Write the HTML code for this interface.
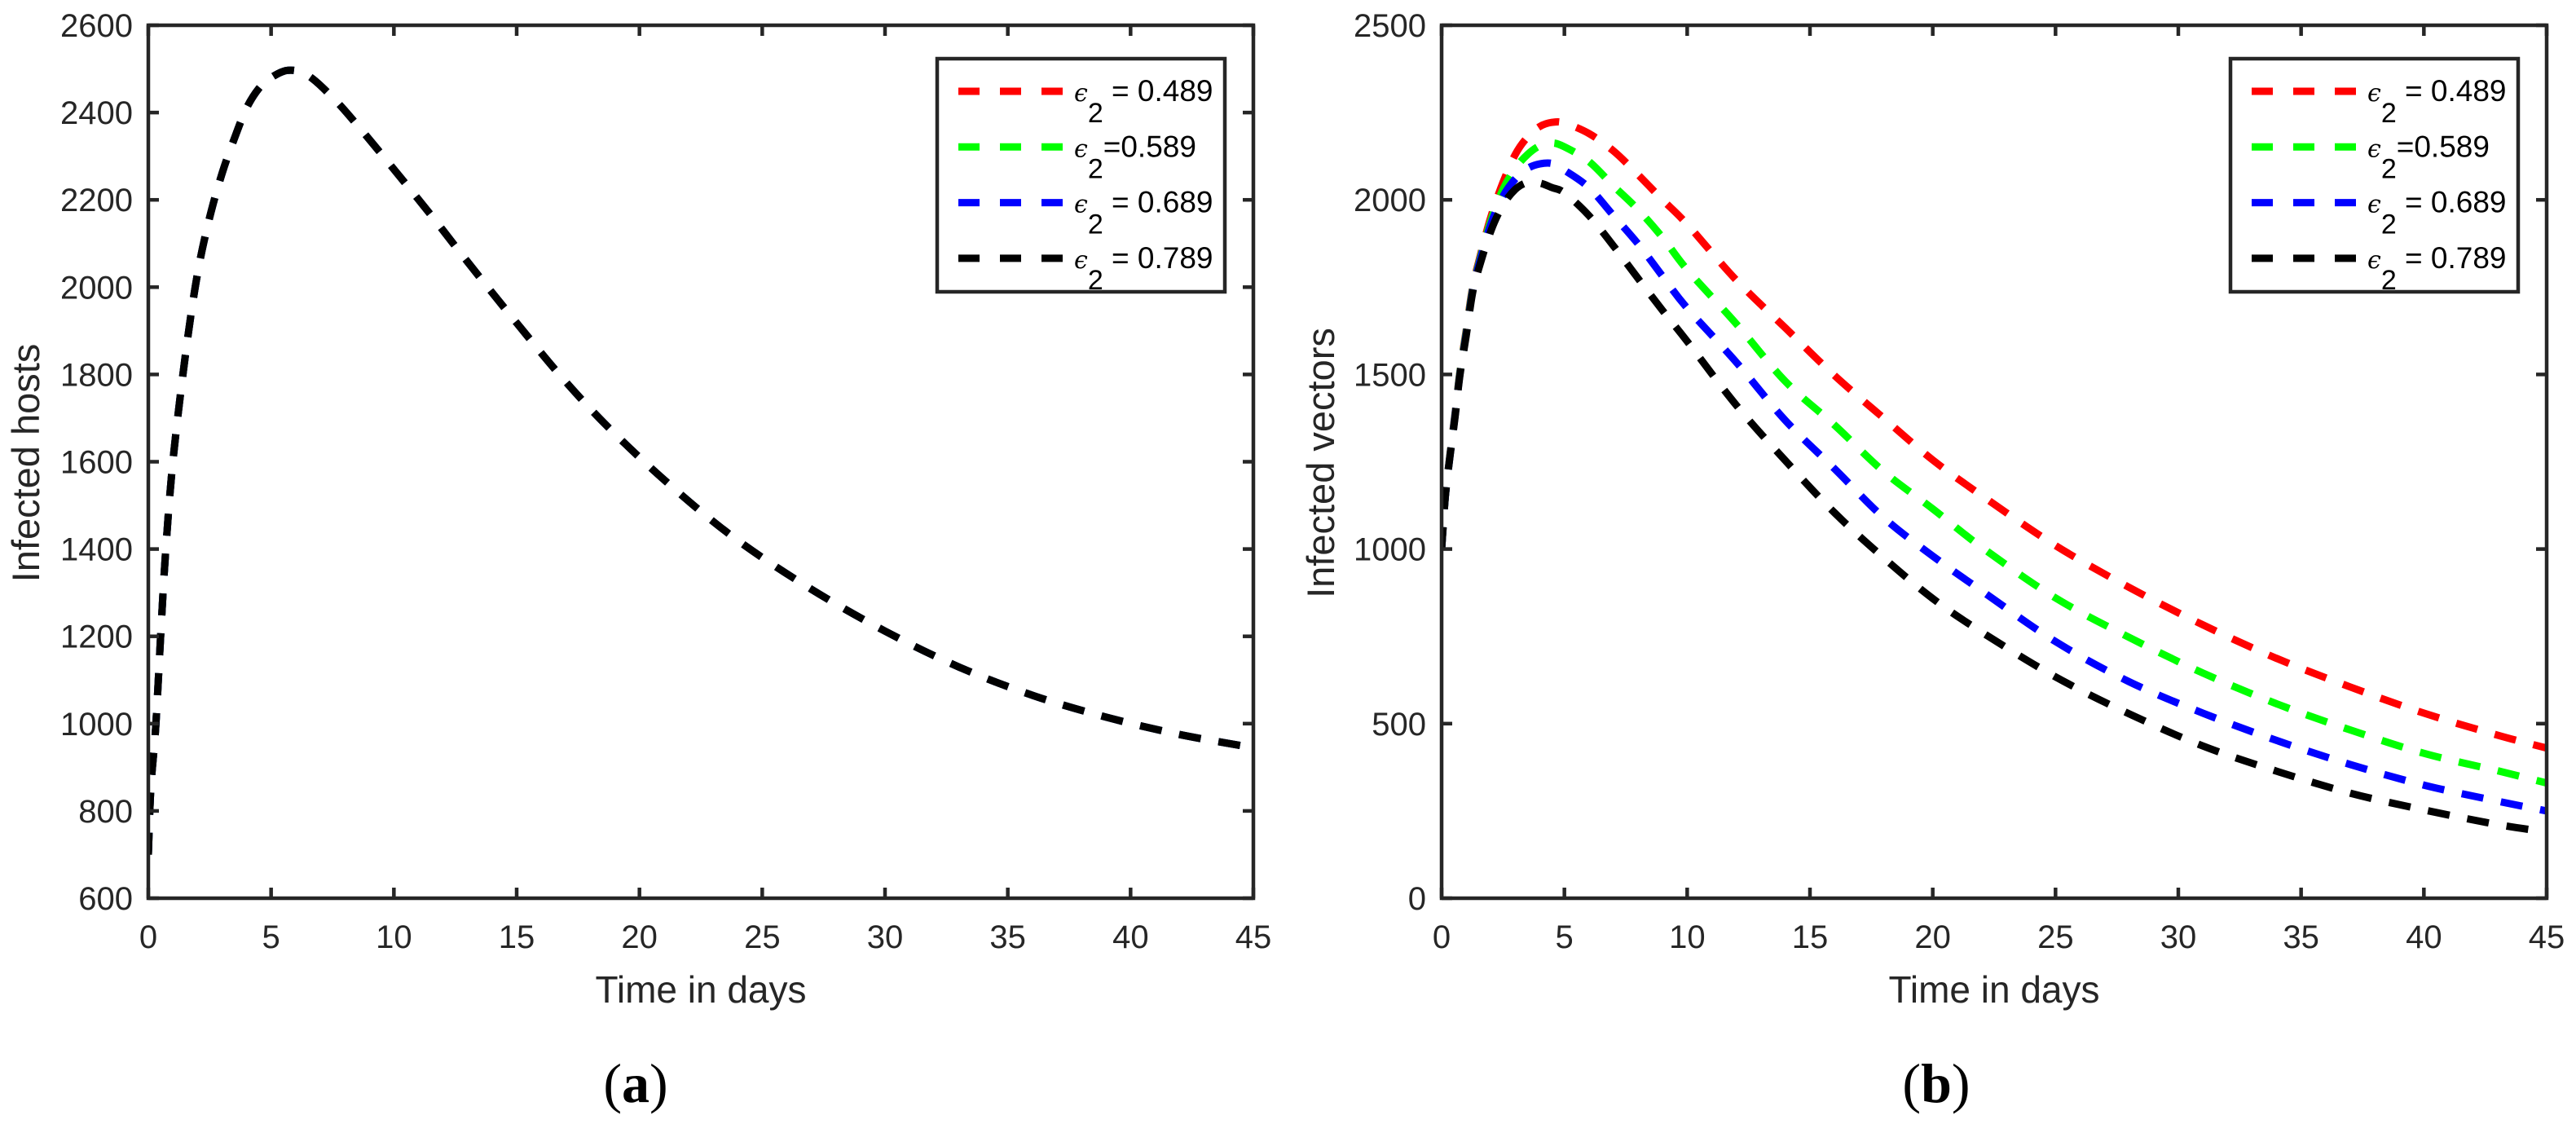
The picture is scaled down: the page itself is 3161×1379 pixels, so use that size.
<!DOCTYPE html>
<html><head><meta charset="utf-8"><style>
html,body{margin:0;padding:0;background:#fff;}
svg{display:block;font-family:"Liberation Sans",Arial,sans-serif;}
</style></head><body>
<svg id="fig" width="3161" height="1379" viewBox="0 0 3161 1379" xmlns="http://www.w3.org/2000/svg"></svg>
<script>
// ---------- data ----------
const hostTimes = [0,0.1,0.3,0.5,0.7,1,1.5,2,2.5,3,3.5,4,4.5,5,5.7,6.5,7.5,8.5,10,11.5,13,15,17,19,21.5,24,27,30,33,36,39,42,45];
const hostsE489 = [700,850,990,1200,1390,1600,1840,2030,2160,2260,2340,2410,2455,2480,2497,2485,2435,2372,2270,2166,2058,1918,1783,1664,1534,1420,1308,1212,1130,1065,1015,975,945];
const hostsE589 = [700,850,990,1200,1390,1600,1840,2030,2160,2260,2340,2410,2455,2480,2497,2485,2435,2372,2270,2166,2058,1918,1783,1664,1534,1420,1308,1212,1130,1065,1015,975,945];
const hostsE689 = [700,850,990,1200,1390,1600,1840,2030,2160,2260,2340,2410,2455,2480,2497,2485,2435,2372,2270,2166,2058,1918,1783,1664,1534,1420,1308,1212,1130,1065,1015,975,945];
const hostsE789 = [700,850,990,1200,1390,1600,1840,2030,2160,2260,2340,2410,2455,2480,2497,2485,2435,2372,2270,2166,2058,1918,1783,1664,1534,1420,1308,1212,1130,1065,1015,975,945];

const vecTimes = [0,0.15,0.35,0.55,0.75,1,1.25,1.5,2,2.5,3,3.5,4,4.5,5,6,7,8,9,10,12,14,16,18,20,22,25,28,31,34,37,40,43,45];
const vecE489 = [1000,1150,1275,1390,1510,1625,1745,1820,1950,2050,2130,2180,2210,2222,2220,2190,2140,2072,2000,1930,1770,1633,1497,1375,1255,1153,1010,890,783,687,605,530,467,430];
const vecE589 = [1000,1150,1273,1387,1507,1620,1740,1815,1940,2030,2090,2130,2155,2163,2152,2110,2040,1972,1892,1800,1645,1480,1355,1222,1115,1005,860,747,645,557,482,415,365,330];
const vecE689 = [1000,1150,1271,1384,1503,1615,1735,1810,1930,2010,2060,2090,2103,2104,2085,2035,1955,1874,1781,1690,1535,1368,1230,1090,980,880,735,620,530,452,383,324,278,250];
const vecE789 = [1000,1150,1270,1380,1500,1610,1730,1800,1910,1985,2030,2050,2048,2035,2020,1955,1868,1775,1683,1595,1412,1253,1104,975,858,762,634,528,436,364,301,253,211,190];

const xTicks = [0,5,10,15,20,25,30,35,40,45];
const hostYTicks = [600,800,1000,1200,1400,1600,1800,2000,2200,2400,2600];
const vecYTicks = [0,500,1000,1500,2000,2500];
const legendLabels = ["= 0.489","=0.589","= 0.689","= 0.789"];
const seriesColors = ["#ff0000","#00ff00","#0000ff","#000000"];

// ---------- drawing ----------
const NS = "http://www.w3.org/2000/svg";
const svg = document.getElementById("fig");
function mk(tag, attrs, parent){
  const e = document.createElementNS(NS, tag);
  for (const k in attrs) e.setAttribute(k, attrs[k]);
  (parent||svg).appendChild(e);
  return e;
}
function smoothPath(pts){
  let d = "M" + pts[0][0].toFixed(1) + "," + pts[0][1].toFixed(1);
  for (let i=0;i<pts.length-1;i++){
    const p0 = pts[Math.max(0,i-1)], p1 = pts[i], p2 = pts[i+1], p3 = pts[Math.min(pts.length-1,i+2)];
    const c1x = p1[0]+(p2[0]-p0[0])/6, c1y = p1[1]+(p2[1]-p0[1])/6;
    const c2x = p2[0]-(p3[0]-p1[0])/6, c2y = p2[1]-(p3[1]-p1[1])/6;
    d += " C"+c1x.toFixed(1)+","+c1y.toFixed(1)+" "+c2x.toFixed(1)+","+c2y.toFixed(1)+" "+p2[0].toFixed(1)+","+p2[1].toFixed(1);
  }
  return d;
}

function drawPanel(cfg){
  const g = mk("g", {});
  
  
  const L=cfg.left, R=cfg.right, T=31, B=1102;
  const xs = t => L + (t - 0) / 45 * (R - L);
  const ys = v => B - (v - cfg.ymin) / (cfg.ymax - cfg.ymin) * (B - T);

  const clip = mk("clipPath", {id: cfg.name+"-clip"}, g);
  mk("rect", {x:L, y:T, width:R-L, height:B-T}, clip);
  const cg = mk("g", {"clip-path":"url(#"+cfg.name+"-clip)"}, g);
  cfg.series.forEach((vals, i) => {
    const pts = cfg.times.map((t, j) => [xs(t), ys(vals[j])]);
    const p = mk("path", {d: smoothPath(pts), fill:"none", stroke: seriesColors[i], "stroke-width":9, "stroke-dasharray":"27 22"}, cg);
    
    
  });

  const box = mk("rect", {x:L, y:T, width:R-L, height:B-T, fill:"none", stroke:"#262626", "stroke-width":4.5}, g);
  
  

  xTicks.forEach(t => {
    const x = xs(t);
    mk("line", {x1:x, y1:B, x2:x, y2:B-13, stroke:"#262626", "stroke-width":4.5}, g);
    mk("line", {x1:x, y1:T, x2:x, y2:T+13, stroke:"#262626", "stroke-width":4.5}, g);
    const tx = mk("text", {x:x, y:1163, "font-size":40, fill:"#262626", "text-anchor":"middle"}, g);
    tx.textContent = t;
    
    
  });
  cfg.yticks.forEach(v => {
    const y = ys(v);
    mk("line", {x1:L, y1:y, x2:L+13, y2:y, stroke:"#262626", "stroke-width":4.5}, g);
    mk("line", {x1:R, y1:y, x2:R-13, y2:y, stroke:"#262626", "stroke-width":4.5}, g);
    const ty = mk("text", {x:L-19, y:y+14, "font-size":40, fill:"#262626", "text-anchor":"end"}, g);
    ty.textContent = v;
    
    
  });

  const xt = mk("text", {x:(L+R)/2, y:1230, "font-size":46, fill:"#262626", "text-anchor":"middle"}, g);
  xt.textContent = "Time in days";
  
  
  const yt = mk("text", {x:0, y:0, "font-size":47, fill:"#262626", "text-anchor":"middle", transform:"translate("+cfg.ytitleX+",568) rotate(-90)", "xml:space":"preserve"}, g);
  yt.textContent = cfg.ytitle;
  
  

  const pl = mk("text", {x:cfg.labelX, y:1352, "font-size":68, fill:"#000", "text-anchor":"middle", "font-family":"Liberation Serif, serif"}, g);
  pl.innerHTML = '(<tspan font-weight="bold">'+cfg.label+'</tspan>)';
  
  

  const lg = mk("g", {}, g);
  
  
  const lx = R - 388, lw = 353;
  mk("rect", {x:lx, y:72, width:lw, height:286, fill:"#fff", stroke:"#262626", "stroke-width":4.5}, lg);
  legendLabels.forEach((lab, i) => {
    const cy = 112 + i*68.3;
    const e = mk("g", {}, lg);
    
    
    mk("line", {x1:lx+26, y1:cy, x2:lx+154, y2:cy, stroke:seriesColors[i], "stroke-width":9, "stroke-dasharray":"26 25"}, e);
    const t = mk("text", {x:lx+168, y:cy+12, "font-size":37, fill:"#000"}, e);
    t.innerHTML = '<tspan font-family="DejaVu Serif, serif" font-style="italic" font-size="30">ϵ</tspan><tspan dy="26" font-size="34">2</tspan><tspan dy="-26">' + (lab.startsWith("=0") ? "" : " ") + lab + '</tspan>';
  });
}

drawPanel({name:"hosts-panel", left:182, right:1538, ymin:600, ymax:2600, yticks:hostYTicks,
  times:hostTimes, series:[hostsE489,hostsE589,hostsE689,hostsE789],
  ytitle:"Infected  hosts", ytitleX:48, label:"a", labelX:780});
drawPanel({name:"vectors-panel", left:1769, right:3125, ymin:0, ymax:2500, yticks:vecYTicks,
  times:vecTimes, series:[vecE489,vecE589,vecE689,vecE789],
  ytitle:"Infected vectors", ytitleX:1637, label:"b", labelX:2376});
</script>
</body></html>
